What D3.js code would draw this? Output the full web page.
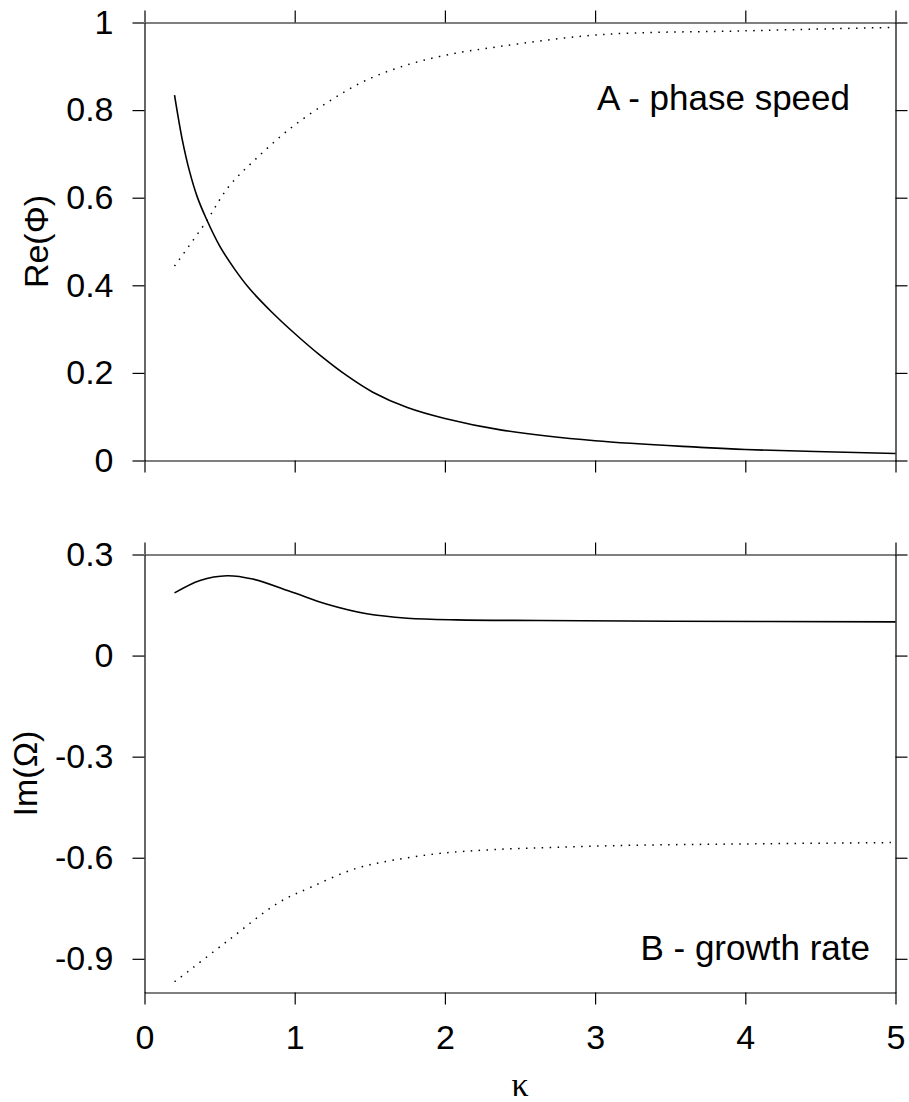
<!DOCTYPE html>
<html>
<head>
<meta charset="utf-8">
<script src="https://cdn.jsdelivr.net/npm/d3@7"></script>
<style>
  html, body { margin: 0; padding: 0; background: #fff; }
  svg { display: block; }
  text { font-family: "Liberation Sans", Arial, sans-serif; fill: #000; }
</style>
</head>
<body>
<svg id="chart" width="909" height="1102"></svg>
<script>
// ---- data ----
const xTicks = [0, 1, 2, 3, 4, 5];
const yTicksA = [0, 0.2, 0.4, 0.6, 0.8, 1];
const yTickLabelsA = ["0", "0.2", "0.4", "0.6", "0.8", "1"];
const yTicksB = [0.3, 0, -0.3, -0.6, -0.9];
const yTickLabelsB = ["0.3", "0", "-0.3", "-0.6", "-0.9"];

// Panel A: phase speed
const kA1 = [0.2, 0.25, 0.3, 0.35, 0.41, 0.5, 0.6, 0.7, 0.85, 1.0, 1.17, 1.35, 1.52, 1.75, 2.0, 2.37, 3.0, 3.7, 4.0, 5.0];
const reA1 = [0.834, 0.735, 0.66, 0.603, 0.553, 0.49, 0.437, 0.392, 0.338, 0.29, 0.24, 0.193, 0.156, 0.121, 0.096, 0.070, 0.045, 0.030, 0.025, 0.016];
const kA2 = [0.2, 0.41, 0.56, 0.74, 0.97, 1.22, 1.45, 1.7, 2.0, 2.36, 3.03, 4.0, 5.0];
const reA2 = [0.444, 0.545, 0.625, 0.688, 0.758, 0.818, 0.864, 0.898, 0.925, 0.945, 0.972, 0.981, 0.989];

// Panel B: growth rate
const kB1 = [0.2, 0.37, 0.55, 0.72, 0.99, 1.21, 1.48, 1.75, 2.08, 2.63, 3.5, 5.0];
const imB1 = [0.186, 0.223, 0.237, 0.227, 0.187, 0.153, 0.124, 0.111, 0.106, 0.104, 0.102, 0.100];
const kB2 = [0.2, 0.26, 0.55, 0.89, 1.11, 1.4, 1.66, 1.97, 2.32, 2.74, 3.26, 4.0, 5.0];
const imB2 = [-0.968, -0.948, -0.848, -0.734, -0.687, -0.633, -0.607, -0.587, -0.576, -0.569, -0.563, -0.559, -0.555];

// ---- drawing ----
const svg = d3.select("#chart");
const FS = 34;

const x = d3.scaleLinear().domain([0, 5]).range([144.5, 895.5]);
const yA = d3.scaleLinear().domain([0, 1]).range([460.5, 22.5]);
const yB = d3.scaleLinear().domain([-1, 0.3]).range([992.5, 554.5]);

function frame(y, yTicks, yLabels, showXLabels) {
  const g = svg.append("g");
  const [y0, y1] = y.range(); // bottom, top
  g.append("g").attr("transform", `translate(0,${y1})`)
    .call(d3.axisTop(x).tickValues(xTicks).tickSize(12).tickSizeOuter(0).tickFormat(""));
  g.append("g").attr("transform", `translate(0,${y0})`)
    .call(d3.axisBottom(x).tickValues(xTicks).tickSize(12).tickSizeOuter(0)
      .tickPadding(20).tickFormat(showXLabels ? d3.format("d") : ""));
  g.append("g").attr("transform", `translate(${x.range()[0]},0)`)
    .call(d3.axisLeft(y).tickValues(yTicks).tickSize(12).tickSizeOuter(0)
      .tickPadding(19).tickFormat((d, i) => yLabels[i]));
  g.append("g").attr("transform", `translate(${x.range()[1]},0)`)
    .call(d3.axisRight(y).tickValues(yTicks).tickSize(12).tickSizeOuter(0).tickFormat(""));
  g.selectAll(".domain, .tick line").attr("stroke", "#000").attr("stroke-width", 1.2);
  g.selectAll(".tick text").attr("font-size", FS)
    .attr("font-family", "'Liberation Sans', Arial, sans-serif").attr("fill", "#000");
  return g;
}

frame(yA, yTicksA, yTickLabelsA, false);
frame(yB, yTicksB, yTickLabelsB, true);

function curve(ks, vs, y, dotted) {
  const pts = ks.map((k, i) => [k, vs[i]]);
  const line = d3.line().x(d => x(d[0])).y(d => y(d[1])).curve(d3.curveCatmullRom.alpha(0.5));
  svg.append("path").datum(pts).attr("d", line)
    .attr("fill", "none").attr("stroke", "#000")
    .attr("stroke-width", dotted ? 1.5 : 1.6)
    .attr("stroke-dasharray", dotted ? "1.5,6.4" : null);
}

curve(kA1, reA1, yA, false);
curve(kA2, reA2, yA, true);
curve(kB1, imB1, yB, false);
curve(kB2, imB2, yB, true);

// annotations
svg.append("text").attr("x", 850).attr("y", 110).attr("text-anchor", "end")
  .attr("font-size", 35).text("A - phase speed");
svg.append("text").attr("x", 870).attr("y", 960).attr("text-anchor", "end")
  .attr("font-size", 35).text("B - growth rate");

// axis titles
svg.append("text").attr("transform", `translate(48,${(yA.range()[0] + yA.range()[1]) / 2}) rotate(-90)`)
  .attr("text-anchor", "middle").attr("font-size", FS).text("Re(Φ)");
svg.append("text").attr("transform", `translate(37,${(yB.range()[0] + yB.range()[1]) / 2}) rotate(-90)`)
  .attr("text-anchor", "middle").attr("font-size", FS).text("Im(Ω)");
svg.append("text").attr("x", (x.range()[0] + x.range()[1]) / 2).attr("y", 1096)
  .attr("text-anchor", "middle").attr("font-size", FS)
  .style("font-family", "'Liberation Serif', 'Times New Roman', serif").text("κ");
</script>
</body>
</html>
